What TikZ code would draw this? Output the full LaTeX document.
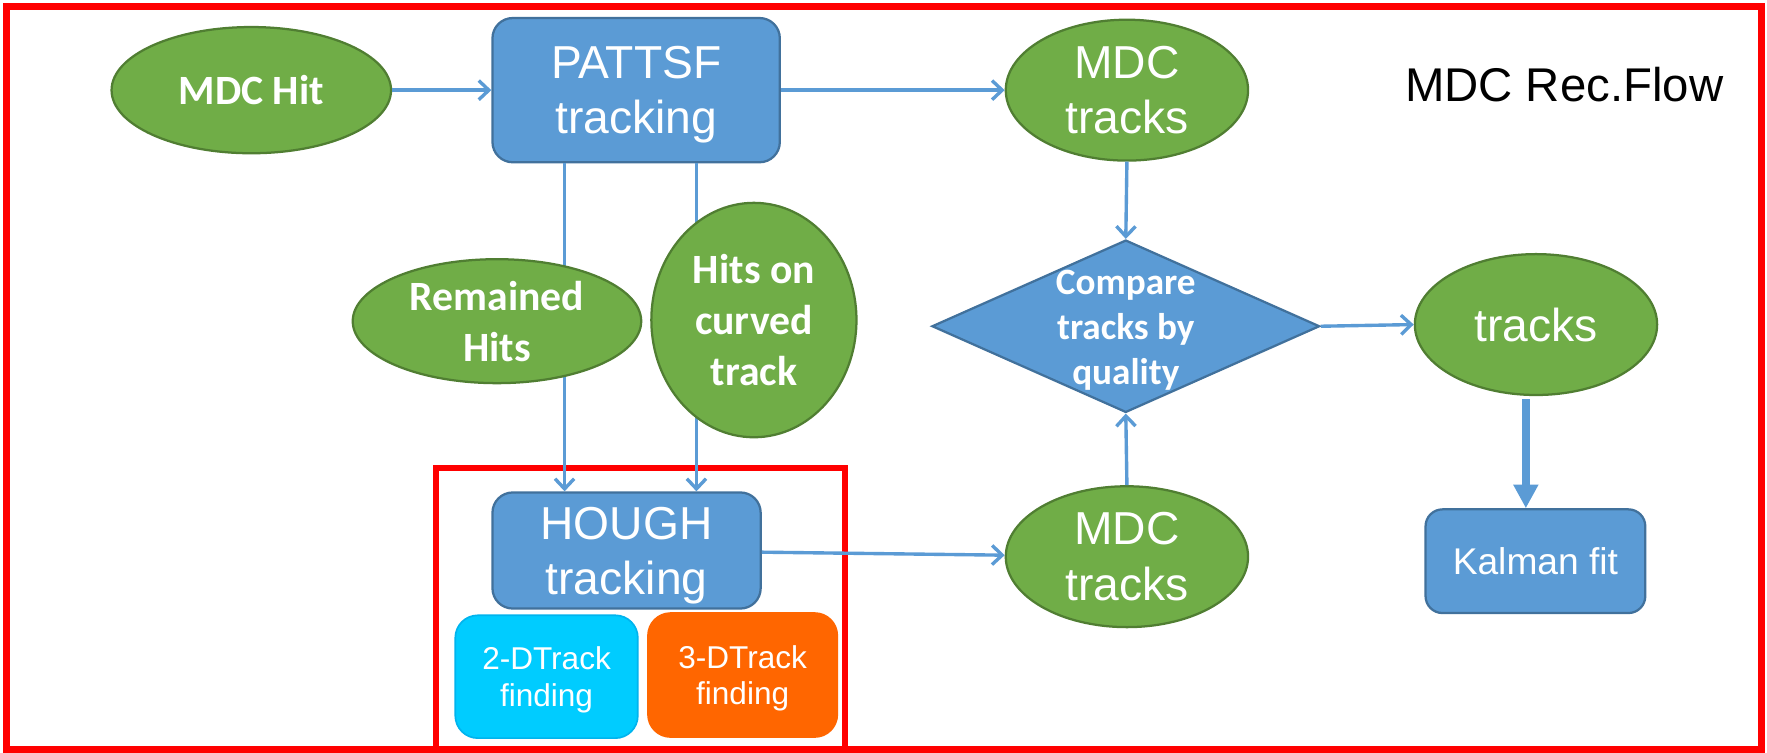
\documentclass[tikz,border=0pt]{standalone}
\usepackage{fontspec}
\setmainfont{Liberation Sans}
\newfontfamily\calibfont{Carlito}
\usetikzlibrary{shapes.geometric,arrows.meta}
\definecolor{grnfill}{HTML}{70AD47}
\definecolor{grnline}{HTML}{507E32}
\definecolor{blufill}{HTML}{5B9BD5}
\definecolor{bluline}{HTML}{41719C}
\definecolor{flowc}{HTML}{5B9BD5}
\definecolor{cyanfill}{HTML}{00CCFF}
\definecolor{cyanline}{HTML}{00B4EE}
\definecolor{orngfill}{HTML}{FF6600}
\definecolor{framered}{HTML}{FF0000}
\begin{document}
\begin{tikzpicture}[x=1pt,y=-1pt,
  greenell/.style={ellipse, draw=grnline, fill=grnfill, line width=2pt,
    inner sep=0pt, text=white, align=center},
  bluebox/.style={rectangle, rounded corners=18pt, draw=bluline, fill=blufill,
    line width=2pt, inner sep=0pt, text=white, align=center},
  findbox/.style={rectangle, rounded corners=20pt, line width=1.5pt, inner sep=0pt,
    text=white, align=center, text depth=0pt,
    font=\fontsize{28}{32.5}\selectfont},
  flow/.style={draw=flowc, line width=3pt, -{Straight Barb[length=9pt,width=17pt]}},
  bigflow/.style={draw=flowc, line width=7pt, -{Triangle[length=21pt,width=21pt]}},
  redframe/.style={draw=framered, line width=6pt},
  arialbig/.style={font=\fontsize{41}{49}\selectfont},
  calbbig/.style={font=\calibfont\bfseries\fontsize{37}{45}\selectfont},
]
\useasboundingbox (0,0) rectangle (1568,668);
\fill[white] (0,0) rectangle (1568,668);

% outer frame and the frame round the Hough stage
\draw[redframe] (6,6) rectangle (1563,665);
\draw[redframe, line width=5.5pt] (387,415) rectangle (750,665);

% top row
\node[greenell, calbbig, minimum width=248pt, minimum height=112pt] (mdchit) at (223,80) {MDC Hit};
\node[bluebox, arialbig, text depth=0pt, minimum width=255pt, minimum height=128pt] (pattsf) at (564.5,80) {PATTSF\\tracking};
\node[greenell, arialbig, minimum width=215pt, minimum height=125pt] (mdct1) at (1000,80) {MDC\\tracks};
\node[font=\fontsize{42}{50}\selectfont, inner sep=0pt] (title) at (1388,75) {MDC Rec.Flow};

% Hough stage
\node[bluebox, arialbig, text depth=0pt, minimum width=238pt, minimum height=103pt] (hough) at (556,488.5) {HOUGH\\tracking};
\node[findbox, draw=cyanline, fill=cyanfill, minimum width=162pt, minimum height=109pt] (twod) at (485,600.5) {2-DTrack\\finding};
\node[findbox, draw=orngfill, fill=orngfill, minimum width=168pt, minimum height=110pt] (threed) at (659,599) {3-DTrack\\finding};

% hits passed from PATTSF down to HOUGH (behind the hit ellipses)
\coordinate (colA) at (501,0);
\coordinate (colB) at (618,0);
\draw[flow] (pattsf.south -| colA) -- (hough.north -| colA);
\draw[flow] (pattsf.south -| colB) -- (hough.north -| colB);

\node[greenell, calbbig, minimum width=256pt, minimum height=110pt] (remhits) at (441,285) {Remained\\Hits};
\node[greenell, calbbig, minimum width=182pt, minimum height=208pt] (curved) at (669,284) {Hits on\\curved\\track};

% comparison and output
\node[diamond, draw=bluline, fill=blufill, line width=2pt, inner sep=0pt,
  minimum width=344pt, minimum height=153pt] (cmp) at (999,289.5) {};
\node[text=white, align=center, inner sep=0pt,
  font=\calibfont\bfseries\fontsize{33}{40}\selectfont] (cmptext) at (999,293) {Compare\\tracks by\\quality};
\node[greenell, arialbig, minimum width=215pt, minimum height=125pt] (tracks) at (1363,288) {tracks};
\node[bluebox, rounded corners=15pt, font=\fontsize{33}{40}\selectfont,
  minimum width=195pt, minimum height=92pt] (kalman) at (1362.5,498) {Kalman fit};
\node[greenell, arialbig, minimum width=215pt, minimum height=125pt] (mdct2) at (1000,494) {MDC\\tracks};

% connectors
\draw[flow] (mdchit) -- (pattsf);
\draw[flow] (pattsf) -- (mdct1);
\draw[flow] (mdct1.south) -- (cmp.north);
\draw[flow] (hough) -- (mdct2);
\draw[flow] (mdct2.north) -- (cmp.south);
\draw[flow] (cmp.east) -- (tracks.west);
\coordinate (colK) at (1354,0);
\draw[bigflow, shorten <=3pt] (tracks.south -| colK) -- (kalman.north -| colK);
\end{tikzpicture}
\end{document}
